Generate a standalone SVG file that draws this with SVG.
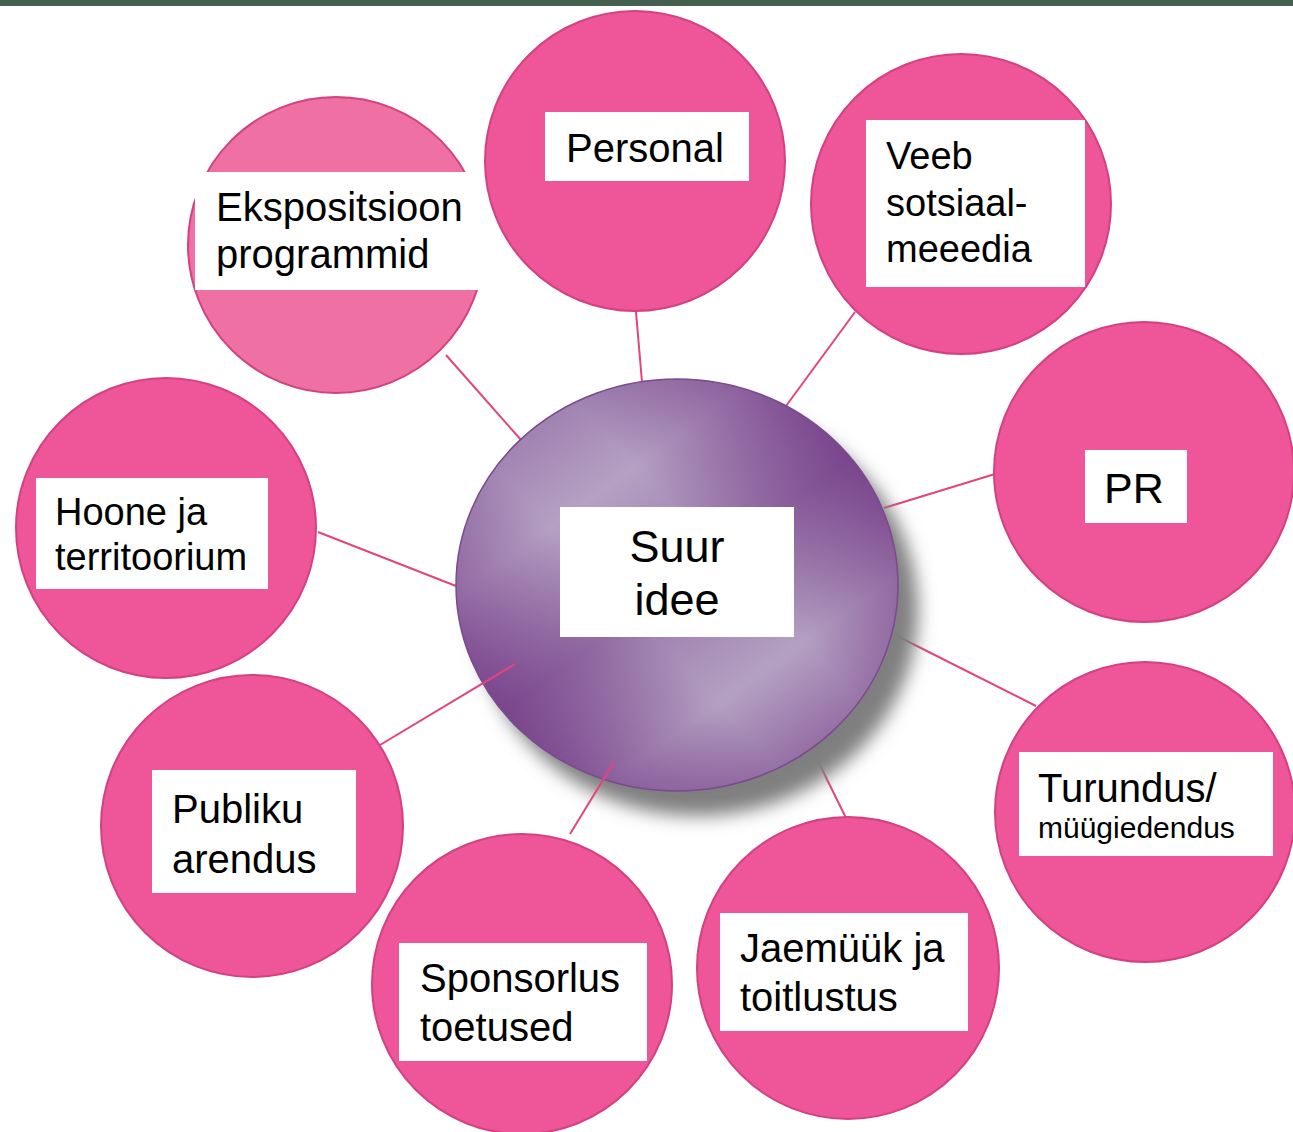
<svg xmlns="http://www.w3.org/2000/svg" width="1293" height="1132" viewBox="0 0 1293 1132">
<style>
.c{fill:#ef5599;stroke:#d4417f;stroke-width:2}
.cl{fill:#ef70a3;stroke:#d4417f;stroke-width:2}
.b{fill:#ffffff}
.t{font-family:"Liberation Sans",Arial,sans-serif;font-size:40px;fill:#000}
.ln{stroke:#e0457f;stroke-width:2;fill:none}
</style>
<defs>
<linearGradient id="g1" x1="0.15" y1="0.05" x2="0.85" y2="0.95">
<stop offset="0" stop-color="#9a78ab"/>
<stop offset="0.25" stop-color="#b5a1c3"/>
<stop offset="0.5" stop-color="#9a7aab"/>
<stop offset="0.75" stop-color="#b4a1c2"/>
<stop offset="1" stop-color="#8b5f9c"/>
</linearGradient>
<linearGradient id="g2" x1="0.05" y1="0.9" x2="0.95" y2="0.1">
<stop offset="0" stop-color="#6a2a7d" stop-opacity="0.85"/>
<stop offset="0.4" stop-color="#6a2a7d" stop-opacity="0"/>
<stop offset="0.6" stop-color="#6a2a7d" stop-opacity="0"/>
<stop offset="1" stop-color="#6a2a7d" stop-opacity="0.85"/>
</linearGradient>
<filter id="sh" x="-20%" y="-20%" width="140%" height="140%">
<feGaussianBlur stdDeviation="9"/>
</filter>
</defs>
<rect x="0" y="0" width="1293" height="6" fill="#46604f"/>
<g id="connectors">
<line class="ln" x1="446" y1="355" x2="522" y2="441"/>
<line class="ln" x1="636" y1="312" x2="642" y2="382"/>
<line class="ln" x1="855" y1="312" x2="786" y2="406"/>
<line class="ln" x1="995" y1="474" x2="884" y2="508"/>
<line class="ln" x1="1036" y1="706" x2="897" y2="636"/>
<line class="ln" x1="846" y1="818" x2="812" y2="749"/>
<line class="ln" x1="318" y1="532" x2="456" y2="586"/>
</g>
<g id="n-ekspositsioon">
<circle class="cl" cx="336" cy="245" r="148"/>
<rect class="b" x="195" y="172" width="292" height="118"/>
<text class="t" x="216" y="221">Ekspositsioon</text>
<text class="t" x="216" y="268">programmid</text>
</g>
<g id="n-personal">
<circle class="c" cx="635" cy="161" r="150"/>
<rect class="b" x="545" y="112" width="204" height="69"/>
<text class="t" x="566" y="162">Personal</text>
</g>
<g id="n-veeb">
<circle class="c" cx="961" cy="204" r="150"/>
<rect class="b" x="866" y="120" width="219" height="167"/>
<text class="t" x="886" y="169" style="font-size:38px">Veeb</text>
<text class="t" x="886" y="216" style="font-size:38px">sotsiaal-</text>
<text class="t" x="886" y="262" style="font-size:38px">meeedia</text>
</g>
<g id="n-pr">
<circle class="c" cx="1144" cy="472" r="150"/>
<rect class="b" x="1085" y="450" width="102" height="73"/>
<text class="t" x="1104" y="503" style="font-size:43px">PR</text>
</g>
<g id="n-turundus">
<circle class="c" cx="1145" cy="812" r="150"/>
<rect class="b" x="1019" y="752" width="254" height="104"/>
<text class="t" x="1038" y="802">Turundus/</text>
<text class="t" x="1038" y="838" style="font-size:30px">müügiedendus</text>
</g>
<g id="n-jaemyyk">
<circle class="c" cx="848" cy="968" r="151"/>
<rect class="b" x="720" y="913" width="248" height="118"/>
<text class="t" x="740" y="962">Jaemüük ja</text>
<text class="t" x="740" y="1011">toitlustus</text>
</g>
<g id="n-sponsorlus">
<circle class="c" cx="522" cy="984" r="150"/>
<rect class="b" x="399" y="943" width="248" height="118"/>
<text class="t" x="420" y="992">Sponsorlus</text>
<text class="t" x="420" y="1041">toetused</text>
</g>
<g id="n-publiku">
<circle class="c" cx="252" cy="826" r="151"/>
<rect class="b" x="152" y="770" width="204" height="123"/>
<text class="t" x="172" y="823">Publiku</text>
<text class="t" x="172" y="873">arendus</text>
</g>
<g id="n-hoone">
<circle class="c" cx="166" cy="528" r="150"/>
<rect class="b" x="36" y="478" width="232" height="111"/>
<text class="t" x="55" y="525" style="font-size:38px">Hoone ja</text>
<text class="t" x="55" y="570" style="font-size:38px">territoorium</text>
</g>
<g id="n-suur">
<ellipse cx="697" cy="610" rx="221" ry="206" fill="#7f7f7f" filter="url(#sh)"/>
<ellipse cx="677" cy="585" rx="221" ry="206" fill="url(#g1)"/>
<ellipse cx="677" cy="585" rx="221" ry="206" fill="url(#g2)" stroke="#7a4a8e" stroke-width="1.5"/>
<rect class="b" x="560" y="507" width="234" height="130"/>
<text class="t" x="677" y="562" text-anchor="middle" style="font-size:45px">Suur</text>
<text class="t" x="677" y="615" text-anchor="middle" style="font-size:45px">idee</text>
</g>
<g id="connectors-over">
<line class="ln" x1="515" y1="664" x2="380" y2="745"/>
<line class="ln" x1="614" y1="762" x2="570" y2="834"/>
</g>
</svg>
